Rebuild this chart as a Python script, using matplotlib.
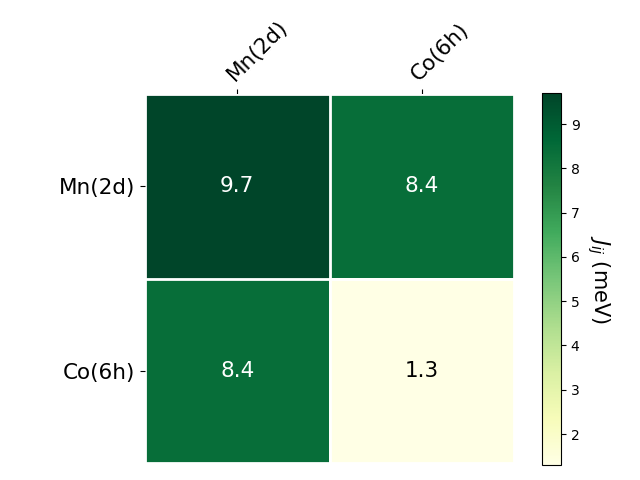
import numpy as np
import matplotlib.pyplot as plt

# Data
sites = ["Mn(2d)", "Co(6h)"]
J = np.array([[9.7, 8.4],
              [8.4, 1.3]])

fig = plt.figure(figsize=(6.4, 4.8), dpi=100)
ax = fig.add_axes([145/640, 17/480, 369/640, 369/480])
cax = fig.add_axes([542/640, 15/480, 19/640, 372/480])

im = ax.imshow(J, cmap="YlGn", aspect="auto")
cbar = fig.colorbar(im, cax=cax)
cbar.ax.set_ylabel(r"$J_{ij}$ (meV)", rotation=-90, va="bottom", fontsize=15)

ax.set_xticks(np.arange(len(sites)))
ax.set_yticks(np.arange(len(sites)))
ax.set_xticklabels(sites, fontsize=15.5)
ax.set_yticklabels(sites, fontsize=15.5)
ax.tick_params(top=True, bottom=False, labeltop=True, labelbottom=False)
plt.setp(ax.get_xticklabels(), rotation=45, ha="left", rotation_mode="anchor")

for s in ax.spines.values():
    s.set_visible(False)
ax.set_xticks(np.arange(len(sites) + 1) - .5, minor=True)
ax.set_yticks(np.arange(len(sites) + 1) - .5, minor=True)
ax.grid(which="minor", color="w", linestyle="-", linewidth=2)
ax.tick_params(which="minor", bottom=False, left=False, top=False)

# Annotate cells
thr = (J.max() + J.min()) / 2
for i in range(len(sites)):
    for j in range(len(sites)):
        c = "white" if J[i, j] > thr else "black"
        ax.text(j, i, f"{J[i, j]:.1f}", ha="center", va="center", color=c, fontsize=15.5)

plt.savefig("out.png")
